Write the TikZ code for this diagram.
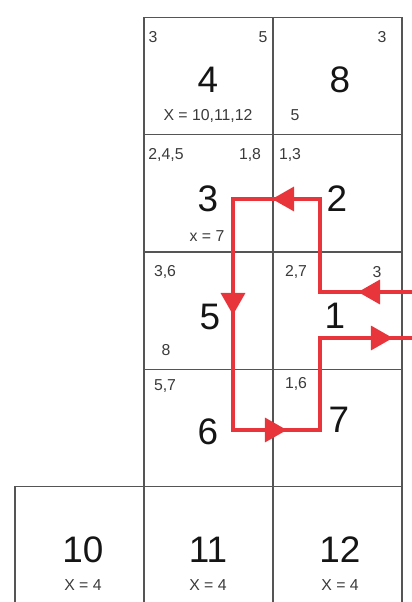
\documentclass[tikz,border=0pt]{standalone}
\usepackage{fontspec}
\setmainfont{Liberation Sans}
\usetikzlibrary{arrows.meta,decorations.markings}
\definecolor{grid}{HTML}{555555}
\definecolor{flow}{HTML}{E8343B}
\definecolor{txt}{HTML}{151515}
\definecolor{txt2}{HTML}{3A3A3A}

\begin{document}
\begin{tikzpicture}[
  x=0.02cm, y=-0.02cm,
  cell/.style={draw=grid, line width=0.7pt, minimum width=2.58cm, minimum height=2.35cm, inner sep=0pt},
  num/.style={font=\fontsize{21}{21}\selectfont, text=txt, inner sep=0pt},
  note/.style={font=\fontsize{9}{9}\selectfont, text=txt2, inner sep=0pt},
  path/.style={color=flow, line width=2pt, line join=miter},
  tips/.style={postaction={decorate}, decoration={markings,
    mark=at position 1.08cm with {\arrow{Triangle[length=0.44cm,width=0.48cm]}},
    mark=at position 4.66cm with {\arrow{Triangle[length=0.44cm,width=0.48cm]}},
    mark=at position 7.76cm with {\arrow{Triangle[length=0.44cm,width=0.48cm]}},
    mark=at position 11.14cm with {\arrow{Triangle[length=0.44cm,width=0.48cm]}},
    mark=at position 15.1cm with {\arrow{Triangle[length=0.44cm,width=0.48cm]}}}},
]
\useasboundingbox (0,0) rectangle (412,602);
\clip (0,0) rectangle (412,602);

% grid of cells
\node[cell] (c4) at (208.5,76) {};
\node[cell] (c8) at (337.5,76) {};
\node[cell] (c3) at (208.5,193.5) {};
\node[cell] (c2) at (337.5,193.5) {};
\node[cell] (c5) at (208.5,310.5) {};
\node[cell] (c1) at (337.5,310.5) {};
\node[cell] (c6) at (208.5,428) {};
\node[cell] (c7) at (337.5,428) {};
\node[cell] (c10) at (79.5,545.5) {};
\node[cell] (c11) at (208.5,545.5) {};
\node[cell] (c12) at (337.5,545.5) {};

% cell numbers
\node[num] (n4) at (208,80) {4};
\node[num] (n8) at (340,80) {8};
\node[num] (n3) at (208,199) {3};
\node[num] (n2) at (337,199) {2};
\node[num] (n5) at (210,317) {5};
\node[num] (n1) at (335,316) {1};
\node[num] (n6) at (208,432) {6};
\node[num] (n7) at (339,420) {7};
\node[num] (n10) at (83,550) {10};
\node[num] (n11) at (208,550) {11};
\node[num] (n12) at (340,550) {12};

% small notes
\node[note] (a4) at (153,37) {3};
\node[note] (b4) at (263,37) {5};
\node[note] (x4) at (208,116) {X = 10,11,12};
\node[note] (a8) at (382,37) {3};
\node[note] (b8) at (295,115) {5};
\node[note] (a3) at (166,155) {2,4,5};
\node[note] (b3) at (250,155) {1,8};
\node[note] (x3) at (207,236) {x = 7};
\node[note] (a2) at (290,155) {1,3};
\node[note] (a5) at (165,272) {3,6};
\node[note] (b5) at (166,350) {8};
\node[note] (a1) at (296,272) {2,7};
\node[note] (b1) at (377,272) {3};
\node[note] (a6) at (165,386) {5,7};
\node[note] (a7) at (296,384) {1,6};
\node[note] (x10) at (83,585) {X = 4};
\node[note] (x11) at (208,585) {X = 4};
\node[note] (x12) at (340,585) {X = 4};

% red route
\coordinate (in) at (412,292);
\coordinate (p1) at (320,292);
\coordinate (p2) at (320,199);
\coordinate (p3) at (233,199);
\coordinate (p4) at (233,430);
\coordinate (p5) at (320,430);
\coordinate (p6) at (320,338);
\coordinate (out) at (412,338);
\draw[path, tips] (in) -- (p1) -- (p2) -- (p3) -- (p4) -- (p5) -- (p6) -- (out);

\end{tikzpicture}
\end{document}
